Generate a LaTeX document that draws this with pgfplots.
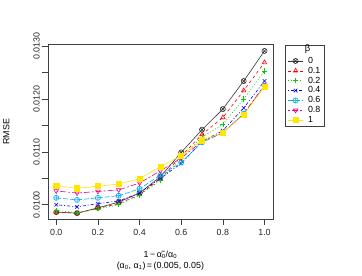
\documentclass[border=0pt]{standalone}
\usepackage{fontspec}
\setmainfont{Liberation Sans}
\usepackage{pgfplots}
\pgfplotsset{compat=1.18}
\usetikzlibrary{plotmarks}
\definecolor{rgreen}{RGB}{0,205,0}
\definecolor{ryellow}{RGB}{255,230,0}
\begin{document}
\begin{tikzpicture}
\begin{axis}[
  scale only axis, width=227bp, height=176bp,
  xmin=-0.04, xmax=1.04, ymin=0.00973, ymax=0.01303,
  axis line style={black!75, line width=0.6bp},
  xtick={0,0.2,0.4,0.6,0.8,1.0},
  xticklabels={0.0,0.2,0.4,0.6,0.8,1.0},
  ytick={0.0100,0.0110,0.0120,0.0130},
  yticklabels={0.0100,0.0110,0.0120,0.0130},
  minor ytick={0.0105,0.0115,0.0125},
  tick pos=left, tick align=outside,
  major tick length=6bp, minor tick length=6bp,
  tick style={black!75, line width=0.6bp},
  ticklabel style={font=\fontsize{9}{10}\selectfont, text=black!85},
  yticklabel style={rotate=90, anchor=south, inner sep=2bp},
  xticklabel style={inner sep=2bp, yshift=-2bp},
  scaled y ticks=false,
  ylabel={RMSE},
  ylabel style={font=\fontsize{9}{10}\selectfont, at={(axis description cs:-0.155,0.5)}},
  every axis plot/.append style={line width=0.6bp, mark size=2.6bp, mark options={solid}},
  legend style={at={(axis description cs:1,1)}, anchor=north west, xshift=12bp,
    font=\fontsize{9}{9}\selectfont, draw=black!75, line width=0.6bp,
    inner xsep=3bp, inner ysep=1.5bp, row sep=0.4pt, nodes={inner sep=0.9bp},
    /tikz/every even column/.append style={column sep=0bp}},
  legend cell align=left,
  legend image code/.code={
    \draw[mark repeat=2,mark phase=2]
      plot coordinates {(0cm,0cm) (0.26cm,0cm) (0.52cm,0cm)};},
  legend image post style={line width=0.6bp},
]
\addlegendimage{empty legend}\addlegendentry{\phantom{0}}
\addplot[black!80, solid, mark=otimes] coordinates {
(0,0.00986)(0.1,0.00984)(0.2,0.00994)(0.3,0.01005)(0.4,0.01022)(0.5,0.01053)(0.6,0.01099)(0.7,0.01142)(0.8,0.01181)(0.9,0.01234)(1.0,0.01291)};
\addlegendentry{\hspace{4bp}0}
\addplot[red, dash pattern=on 3bp off 3bp, mark=triangle] coordinates {
(0,0.00986)(0.1,0.00984)(0.2,0.00993)(0.3,0.01002)(0.4,0.01019)(0.5,0.01049)(0.6,0.01092)(0.7,0.01133)(0.8,0.01165)(0.9,0.01216)(1.0,0.01269)};
\addlegendentry{\hspace{4bp}0.1}
\addplot[rgreen, dash pattern=on 1bp off 2bp, mark=+] coordinates {
(0,0.00989)(0.1,0.00985)(0.2,0.00992)(0.3,0.01000)(0.4,0.01018)(0.5,0.01046)(0.6,0.01088)(0.7,0.01128)(0.8,0.01152)(0.9,0.01200)(1.0,0.01253)};
\addlegendentry{\hspace{4bp}0.2}
\addplot[blue, dash pattern=on 1bp off 2bp on 3bp off 2bp, mark=x] coordinates {
(0,0.01000)(0.1,0.00996)(0.2,0.01002)(0.3,0.01007)(0.4,0.01022)(0.5,0.01050)(0.6,0.01078)(0.7,0.01120)(0.8,0.01140)(0.9,0.01183)(1.0,0.01234)};
\addlegendentry{\hspace{4bp}0.4}
\addplot[cyan, dash pattern=on 5bp off 2bp, mark=oplus] coordinates {
(0,0.01013)(0.1,0.01009)(0.2,0.01013)(0.3,0.01017)(0.4,0.01030)(0.5,0.01056)(0.6,0.01080)(0.7,0.01118)(0.8,0.01136)(0.9,0.01172)(1.0,0.01225)};
\addlegendentry{\hspace{4bp}0.6}
\addplot[magenta, dash pattern=on 2bp off 2bp on 6bp off 2bp, mark=triangle, mark options={solid, rotate=180}] coordinates {
(0,0.01026)(0.1,0.01022)(0.2,0.01025)(0.3,0.01028)(0.4,0.01041)(0.5,0.01064)(0.6,0.01088)(0.7,0.01120)(0.8,0.01136)(0.9,0.01172)(1.0,0.01226)};
\addlegendentry{\hspace{4bp}0.8}
\addplot[ryellow, solid, mark=square*] coordinates {
(0,0.01036)(0.1,0.01031)(0.2,0.01035)(0.3,0.01039)(0.4,0.01049)(0.5,0.01072)(0.6,0.01093)(0.7,0.01122)(0.8,0.01136)(0.9,0.01170)(1.0,0.01223)};
\addlegendentry{\hspace{4bp}1}
\end{axis}
\node[font=\fontsize{9}{10}\selectfont, inner sep=0pt] at (113.5bp,-36.5bp) {1\,−\,α̃\textsubscript{0}/α\textsubscript{0}};
\node[font=\fontsize{9}{10}\selectfont, inner sep=0pt] at (113.5bp,-48bp) {(α\textsubscript{0}, α\textsubscript{1})\,=\,(0.005, 0.05)};
\node[font=\fontsize{9.5}{9.5}\selectfont] at (262bp,171bp) {β};
\path[use as bounding box] (-45bp,-57bp) rectangle (317bp,221bp);
\end{tikzpicture}
\end{document}
